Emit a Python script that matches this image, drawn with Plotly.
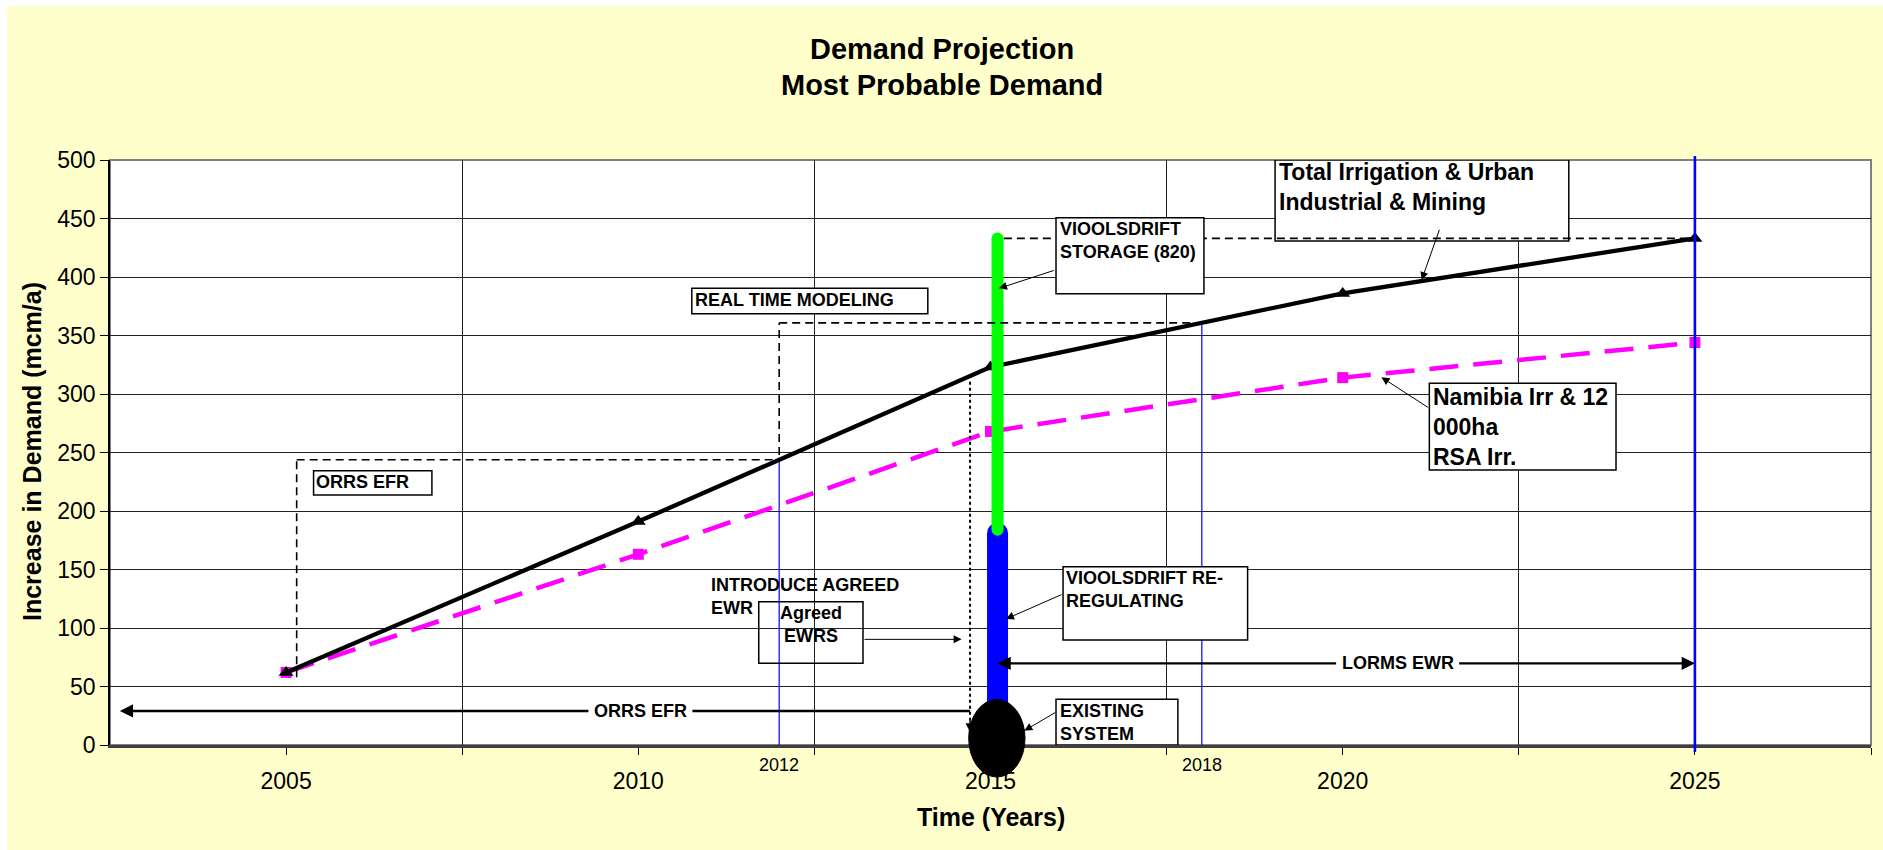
import numpy as np
import plotly.graph_objects as go

# ---------------------------------------------------------------- data
years = [2005, 2010, 2015, 2020, 2025]
total_demand = [62, 191, 323, 386, 433]      # Total Irrigation & Urban, Industrial & Mining
namibia_rsa_demand = [62, 163, 268, 314, 344]  # Namibia Irr & 12 000ha RSA Irr.

x_tick_years = [2005, 2010, 2015, 2020, 2025]
x_tick_labels = ["2005", "2010", "2015", "2020", "2025"]
x_grid_years = [2007.5, 2012.5, 2017.5, 2022.5, 2027.5]
y_ticks = list(range(0, 501, 50))

milestone_years = [2012, 2018]          # real-time modelling window
milestone_labels = ["2012", "2018"]
horizon_year = 2025

phase_year = 2015.1                      # Vioolsdrift commissioning
regulating_range = [0, 181]              # VIOOLSDRIFT RE-REGULATING
storage_range = [184, 433]               # VIOOLSDRIFT STORAGE (820)
ewr_year = 2014.71                       # introduce agreed EWR

XMIN, XMAX = 2002.5, 2027.5
YMIN, YMAX = 0, 500
FONT = "Liberation Sans, Arial, sans-serif"

# plot area in page pixels
L, R, T, B = 110, 12, 160, 105
W, H = 1883, 850
PW, PH = W - L - R, H - T - B


def px_x(px):
    return (px - L) / PW


def px_y(py):
    return (H - B - py) / PH


def xp(yr):
    return (yr - XMIN) / (XMAX - XMIN)


def yp(v):
    return (v - YMIN) / (YMAX - YMIN)


def total_at(yr):
    return float(np.interp(yr, years, total_demand))


fig = go.Figure()

# thin blue milestone markers from the axis up to the total-demand curve
mx, my = [], []
for yr in milestone_years:
    mx += [yr, yr, None]
    my += [0, total_at(yr), None]
fig.add_trace(go.Scatter(x=mx, y=my, mode="lines",
                         line=dict(color="#0000FF", width=1.2),
                         hoverinfo="skip", showlegend=False))

# demand projections
fig.add_trace(go.Scatter(x=years, y=namibia_rsa_demand, mode="lines+markers",
                         name="Namibia Irr & 12 000ha RSA Irr.",
                         line=dict(color="#FF00FF", width=4.5, dash="29px,15px"),
                         marker=dict(symbol="square", size=11, color="#FF00FF"),
                         showlegend=False))
fig.add_trace(go.Scatter(x=years, y=total_demand, mode="lines+markers",
                         name="Total Irrigation & Urban Industrial & Mining",
                         line=dict(color="black", width=4.3),
                         marker=dict(symbol="triangle-up", size=13, color="black"),
                         showlegend=False))

# Vioolsdrift phases as rounded columns
for rng, col, w in [(regulating_range, "#0000FF", 21), (storage_range, "#00FF00", 12)]:
    fig.add_trace(go.Scatter(x=[phase_year, phase_year], y=rng, mode="lines+markers",
                             line=dict(color=col, width=w),
                             marker=dict(symbol="circle", size=w, color=col, line=dict(width=0)),
                             hoverinfo="skip", showlegend=False))

shapes = []
# chart area and plot area backgrounds
shapes.append(dict(type="rect", xref="paper", yref="paper", layer="below",
                   x0=px_x(7), x1=px_x(W + 2), y0=px_y(H + 2), y1=px_y(6),
                   fillcolor="#FFFFCC", line=dict(width=0)))
shapes.append(dict(type="rect", xref="paper", yref="paper", layer="below",
                   x0=0, x1=1, y0=0, y1=1, fillcolor="white",
                   line=dict(color="#808080", width=2)))

dash_style = dict(color="black", width=1.6, dash="8px,5px")


def box(x0, x1, y0, y1, fill="white"):
    return dict(type="rect", xref="x", yref="y", layer="above",
                x0=x0, x1=x1, y0=y0, y1=y1, fillcolor=fill,
                line=dict(color="black", width=1.5))


# callout behind the storage dashed line
shapes.append(box(2019.04, 2023.21, 430.8, 500))

# ORRS EFR bracket
y12 = total_at(milestone_years[0])
shapes.append(dict(type="line", xref="x", yref="y", layer="above",
                   x0=2005.15, x1=2005.15, y0=58, y1=y12, line=dash_style))
shapes.append(dict(type="line", xref="x", yref="y", layer="above",
                   x0=2005.15, x1=milestone_years[0], y0=y12, y1=y12, line=dash_style))
# real time modelling bracket
y18 = total_at(milestone_years[1])
shapes.append(dict(type="line", xref="x", yref="y", layer="above",
                   x0=milestone_years[0], x1=milestone_years[0], y0=y12 + 4, y1=y18,
                   line=dash_style))
shapes.append(dict(type="line", xref="x", yref="y", layer="above",
                   x0=milestone_years[0], x1=milestone_years[1], y0=y18, y1=y18,
                   line=dash_style))
# storage level carried to the horizon
shapes.append(dict(type="line", xref="x", yref="y", layer="above",
                   x0=phase_year + 0.09, x1=horizon_year,
                   y0=storage_range[1], y1=storage_range[1], line=dash_style))
# agreed EWR dotted marker
shapes.append(dict(type="line", xref="x", yref="y", layer="above",
                   x0=ewr_year, x1=ewr_year, y0=310.5, y1=16,
                   line=dict(color="black", width=2, dash="dot")))

# remaining callout boxes
shapes.append(box(2005.39, 2007.07, 213.7, 234.4))
shapes.append(box(2010.76, 2014.11, 368.6, 390.3))
shapes.append(box(2015.93, 2018.03, 385.7, 450.7))
shapes.append(box(2021.23, 2023.88, 235.0, 309.1))
shapes.append(box(2011.71, 2013.19, 69.8, 122.5, fill="rgba(0,0,0,0)"))
shapes.append(box(2016.03, 2018.65, 89.7, 152.4))
shapes.append(box(2015.93, 2017.66, 0, 39.1))

# horizon line (runs slightly past the plot frame)
shapes.append(dict(type="line", xref="paper", yref="paper", layer="above",
                   x0=xp(horizon_year), x1=xp(horizon_year),
                   y0=px_y(752), y1=px_y(156),
                   line=dict(color="#0000FF", width=2.6)))
# existing system
shapes.append(dict(type="circle", xref="paper", yref="paper", layer="above",
                   x0=xp(phase_year - 0.41), x1=xp(phase_year + 0.39),
                   y0=yp(-27.4), y1=yp(38.9),
                   fillcolor="black", line=dict(color="black", width=1)))

ann = []


def page_text(text, x, y, size, angle=0, xref="paper"):
    ann.append(dict(text=text, xref=xref, yref="paper", x=x, y=y, textangle=angle,
                    xanchor="center", yanchor="middle", showarrow=False,
                    font=dict(family=FONT, size=size, color="black")))


page_text("<b>Demand Projection</b>", px_x(942), px_y(49), 29)
page_text("<b>Most Probable Demand</b>", px_x(942), px_y(85), 29)
page_text("<b>Increase in Demand (mcm/a)</b>", px_x(32), px_y(452), 25, angle=-90)
page_text("<b>Time (Years)</b>", px_x(991), px_y(817), 25)
for yr, lab in zip(milestone_years, milestone_labels):
    page_text(lab, yr, px_y(765), 18, xref="x")

small = dict(family=FONT, size=18, color="black")
big = dict(family=FONT, size=23, color="black")


def label(text, x, y, font=small, align="left", xanchor="left"):
    ann.append(dict(text=text, xref="x", yref="y", x=x, y=y, showarrow=False,
                    xanchor=xanchor, yanchor="middle", align=align, font=font))


label("<b>ORRS EFR</b>", 2005.40, 225.0)
label("<b>REAL TIME MODELING</b>", 2010.78, 380.0)
label("<b>VIOOLSDRIFT<br>STORAGE (820)</b>", 2015.96, 431.6)
label("<b>Total Irrigation & Urban<br>Industrial & Mining</b>", 2019.07, 476.9, font=big)
label("<b>Namibia Irr & 12<br>000ha<br>RSA Irr.</b>", 2021.26, 272.1, font=big)
label("<b>INTRODUCE AGREED<br>EWR</b>", 2011.0, 126.8)
label("<b>Agreed<br>EWRS</b>", 2012.45, 102.7, align="center", xanchor="center")
label("<b>VIOOLSDRIFT RE-<br>REGULATING</b>", 2016.05, 132.6)
label("<b>EXISTING<br>SYSTEM</b>", 2015.96, 19.5)


def arrow(tail, head, width=1, size=1.6, headstyle=2):
    ann.append(dict(text="", xref="x", yref="y", axref="x", ayref="y",
                    x=head[0], y=head[1], ax=tail[0], ay=tail[1],
                    showarrow=True, arrowhead=headstyle, arrowsize=size,
                    arrowwidth=width, arrowcolor="black", standoff=0))


arrow((2015.92, 406.0), (2015.12, 390.3))
arrow((2021.38, 441.6), (2021.12, 397.4))
arrow((2021.23, 287.8), (2020.55, 314.3))
arrow((2013.19, 90.3), (2014.59, 90.3))
arrow((2016.03, 129.1), (2015.22, 107.7))
arrow((2015.94, 28.5), (2015.48, 12.2))
arrow((ewr_year, 22), (ewr_year, 11), width=1.5, size=1.2)


def span(text, xc, y, left, right, left_head, right_head):
    # a labelled horizontal span: text in the middle, arrows out to each end
    for end, head, col in [(left, left_head, "black"), (right, right_head, "rgba(0,0,0,0)")]:
        ann.append(dict(text="<b>%s</b>" % text, xref="x", yref="y", axref="x", ayref="y",
                        x=end, y=y, ax=xc, ay=y, showarrow=True,
                        arrowhead=head, arrowsize=1.1, arrowwidth=2.4,
                        arrowcolor="black", standoff=0, borderpad=5,
                        font=dict(family=FONT, size=18, color=col)))


span("LORMS EWR", 2020.78, 69.8, phase_year, horizon_year, 2, 2)
span("ORRS EFR", 2010.03, 29.1, 2002.64, ewr_year, 2, 0)

fig.update_layout(
    width=W, height=H,
    margin=dict(l=L, r=R, t=T, b=B),
    paper_bgcolor="white", plot_bgcolor="white",
    shapes=shapes, annotations=ann, showlegend=False,
    font=dict(family=FONT, color="black"),
    xaxis=dict(range=[XMIN, XMAX], tickmode="array", tickvals=x_tick_years,
               ticktext=x_tick_labels, showgrid=False, zeroline=False,
               ticks="outside", ticklen=7, tickcolor="black", tickwidth=1,
               ticklabelstandoff=7,
               showline=True, linecolor="#404040", linewidth=2.5,
               tickfont=dict(family=FONT, size=23, color="black"),
               minor=dict(tickmode="array", tickvals=x_grid_years, showgrid=True,
                          gridcolor="#222222", gridwidth=1, ticks="outside",
                          ticklen=7, tickcolor="black")),
    yaxis=dict(range=[YMIN, YMAX], tickmode="array", tickvals=y_ticks,
               showgrid=True, gridcolor="#222222", gridwidth=1, zeroline=False,
               ticks="outside", ticklen=8, tickcolor="black",
               showline=True, linecolor="black", linewidth=1.5,
               tickfont=dict(family=FONT, size=23, color="black")),
)

fig.write_html("out.html")
